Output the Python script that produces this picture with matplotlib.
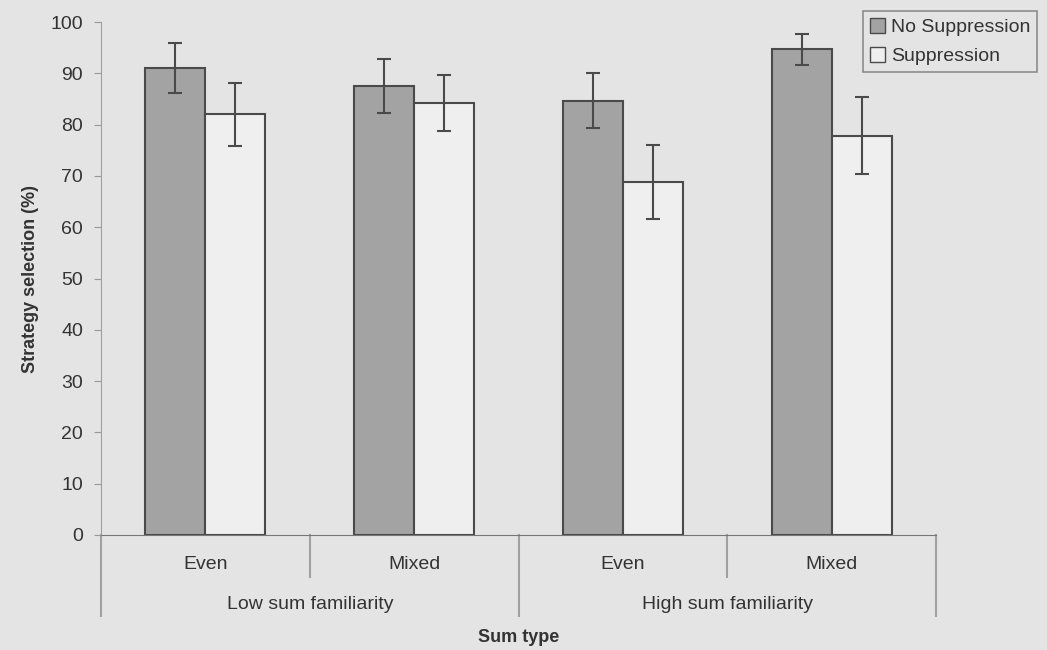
import numpy as np
import matplotlib
matplotlib.use('Agg')
import matplotlib.pyplot as plt
import matplotlib.transforms as mtransforms
from matplotlib.patches import Patch

plt.rcParams['font.family'] = ['Liberation Sans', 'DejaVu Sans']

# data
sum_types = ['Even', 'Mixed', 'Even', 'Mixed']
familiarity = ['Low sum familiarity', 'High sum familiarity']
no_supp = [91.0, 87.5, 84.7, 94.7]
no_supp_err = [4.9, 5.3, 5.3, 3.0]
supp = [82.0, 84.2, 68.9, 77.8]
supp_err = [6.2, 5.4, 7.2, 7.5]

bg = '#e4e4e4'
edge = '#4a4a4a'

fig = plt.figure(figsize=(10.47, 6.5), dpi=100, facecolor=bg)
ax = fig.add_axes([0.0965, 0.177, 0.7975, 0.789])
ax.set_facecolor(bg)

x = np.arange(len(sum_types))
w = 0.287
ax.bar(x - w/2, no_supp, w, color='#a3a3a3', edgecolor=edge, linewidth=1.5, zorder=2)
ax.bar(x + w/2, supp, w, color='#efefef', edgecolor=edge, linewidth=1.5, zorder=2)
ax.errorbar(x - w/2, no_supp, yerr=no_supp_err, fmt='none', ecolor=edge, elinewidth=1.5, capsize=5, capthick=1.5, zorder=3)
ax.errorbar(x + w/2, supp, yerr=supp_err, fmt='none', ecolor=edge, elinewidth=1.5, capsize=5, capthick=1.5, zorder=3)

ax.set_xlim(-0.5, 3.5)
ax.set_ylim(0, 100)
ax.set_yticks(np.arange(0, 101, 10))
ax.tick_params(axis='y', direction='out', length=5, color='#999999', labelsize=14, labelcolor='#333333', pad=8)
ax.set_xticks([])
ax.spines['top'].set_visible(False)
ax.spines['right'].set_visible(False)
ax.spines['left'].set_color('#a0a0a0')
ax.spines['bottom'].set_color('#777777')
ax.set_ylabel('Strategy selection (%)', fontsize=13, fontweight='bold', color='#333333', labelpad=8)

# two-level category axis
trans = mtransforms.blended_transform_factory(ax.transData, ax.transAxes)
for xv in [0.5, 2.5]:
    ax.plot([xv, xv], [0, -0.082], transform=trans, color='#a0a0a0', lw=1.5, clip_on=False)
for xv in [-0.5, 1.5, 3.5]:
    ax.plot([xv, xv], [0, -0.158], transform=trans, color='#a0a0a0', lw=1.5, clip_on=False)
for xv, lab in zip(x, sum_types):
    ax.text(xv, -0.058, lab, transform=trans, ha='center', va='center', fontsize=14, color='#333333')
for i, lab in enumerate(familiarity):
    ax.text(2*i + 0.5, -0.136, lab, transform=trans, ha='center', va='center', fontsize=14, color='#333333')
ax.text(0.5, -0.199, 'Sum type', transform=ax.transAxes, ha='center', va='center', fontsize=13, fontweight='bold', color='#333333')

handles = [Patch(facecolor='#a3a3a3', edgecolor=edge), Patch(facecolor='#efefef', edgecolor=edge)]
leg = fig.legend(handles, ['No Suppression', 'Suppression'], loc='upper left', bbox_to_anchor=(0.824, 0.983),
                 fontsize=14, frameon=True, fancybox=False, handlelength=0.8, handleheight=0.8,
                 handletextpad=0.3, borderpad=0.35, labelspacing=0.55, borderaxespad=0)
leg.get_frame().set_edgecolor('#777777')
leg.get_frame().set_facecolor(bg)
leg.get_frame().set_linewidth(1.2)
for t in leg.get_texts():
    t.set_color('#333333')

fig.savefig('out.png', dpi=100, facecolor=bg)
